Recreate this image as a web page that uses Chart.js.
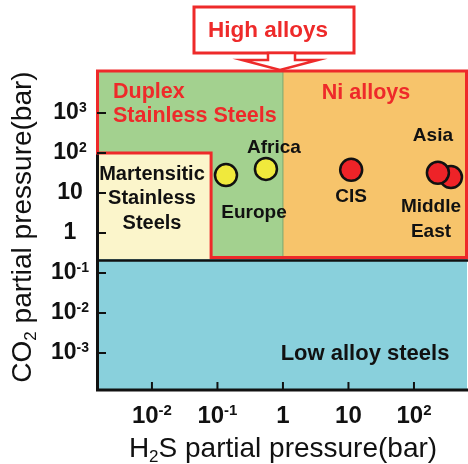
<!DOCTYPE html>
<html>
<head>
<meta charset="utf-8">
<script src="https://cdn.jsdelivr.net/npm/chart.js@4.4.0/dist/chart.umd.min.js"></script>
<style>
  html, body { margin: 0; padding: 0; background: #fff; overflow: hidden; }
  canvas { display: block; }
</style>
</head>
<body>
<canvas id="chart" width="468" height="464"></canvas>
<script>
// Axis ranges (bar, log scale)
const xRange = [1.45e-3, 645];
const yRange = [1.19e-4, 1.12e4];

// Ticks
const xTickValues = [0.01, 0.1, 1, 10, 100];
const xTickLabels = ['10^{-2}', '10^{-1}', '1', '10', '10^{2}'];
const yTickValues = [1e-3, 1e-2, 1e-1, 1, 10, 100, 1000];
const yTickLabels = ['10^{-3}', '10^{-2}', '10^{-1}', '1', '10', '10^{2}', '10^{3}'];

// Material zone limits
const lowAlloyTop = 0.224;      // CO2 above which high alloys are needed
const duplexNiSplit = 1;        // H2S split duplex / Ni alloys
const martensiticMaxH2S = 0.08;
const martensiticMaxCO2 = 100;

// Field locations (H2S, CO2)
const yellowNames = ['Europe', 'Africa'];
const yellowH2S = [0.135, 0.55];
const yellowCO2 = [28, 40];
const redNames = ['CIS', 'Middle East', 'Asia'];
const redH2S = [11, 367, 232];
const redCO2 = [38, 25, 32];

// label offsets from the point, px
const fieldLabelPos = {
  'Europe': { dx: 28, dy: 38, lines: ['Europe'] },
  'Africa': { dx: 8, dy: -21, lines: ['Africa'] },
  'CIS': { dx: 0, dy: 27, lines: ['CIS'] },
  'Middle East': { dx: -20, dy: 30, lines: ['Middle', 'East'] },
  'Asia': { dx: -5, dy: -37, lines: ['Asia'] }
};

const FONT = '"Liberation Sans", Arial, sans-serif';
const RED = '#ee2a2a';

function parseRich(s) {
  return s.split(/(\^\{[^}]*\}|_\{[^}]*\})/).filter(Boolean).map(p => {
    if (p[0] === '^') return { t: p.slice(2, -1), s: 1 };
    if (p[0] === '_') return { t: p.slice(2, -1), s: -1 };
    return { t: p, s: 0 };
  });
}

function drawRich(ctx, str, x, y, size, weight, align) {
  const parts = parseRich(str);
  const fontFor = p => `${weight} ${p.s ? Math.round(size * 0.62) : size}px ${FONT}`;
  let w = 0;
  parts.forEach(p => { ctx.font = fontFor(p); p.w = ctx.measureText(p.t).width; w += p.w; });
  let cx = align === 'center' ? x - w / 2 : (align === 'right' ? x - w : x);
  ctx.textAlign = 'left';
  ctx.textBaseline = 'middle';
  parts.forEach(p => {
    ctx.font = fontFor(p);
    const dy = p.s === 1 ? -size * 0.22 : (p.s === -1 ? size * 0.3 : 0);
    ctx.fillText(p.t, cx, y + dy);
    cx += p.w;
  });
}

function line(ctx, x1, y1, x2, y2) {
  ctx.beginPath();
  ctx.moveTo(x1, y1);
  ctx.lineTo(x2, y2);
  ctx.stroke();
}

const zonePlugin = {
  id: 'zones',
  beforeDatasetsDraw(chart) {
    const { ctx, chartArea: a, scales: { x, y } } = chart;
    const X = v => x.getPixelForValue(v), Y = v => y.getPixelForValue(v);
    const yb = Y(lowAlloyTop);
    const xs = X(duplexNiSplit);
    const xm = X(martensiticMaxH2S), ym = Y(martensiticMaxCO2);
    ctx.save();
    // low alloy steels everywhere
    ctx.fillStyle = '#89d0dc';
    ctx.fillRect(a.left, a.top, a.width, a.height);
    // duplex
    ctx.fillStyle = '#a3d18f';
    ctx.fillRect(a.left, a.top, xs - a.left, yb - a.top);
    // Ni alloys
    ctx.fillStyle = '#f7c46b';
    ctx.fillRect(xs, a.top, a.right - xs, yb - a.top);
    // martensitic
    ctx.fillStyle = '#fbf5cb';
    ctx.fillRect(a.left, ym, xm - a.left, yb - ym);

    ctx.strokeStyle = '#7ea86f';
    ctx.lineWidth = 1;
    line(ctx, xs, a.top, xs, yb);

    ctx.strokeStyle = '#111';
    ctx.lineWidth = 2.5;
    line(ctx, a.left, yb + 1.5, a.right + 1, yb + 1.5);
    ctx.lineWidth = 3;
    line(ctx, a.left + 0.5, a.top, a.left + 0.5, a.bottom);
    line(ctx, a.left - 1, a.bottom, a.right + 1, a.bottom);

    // high alloys outline
    ctx.strokeStyle = RED;
    ctx.lineWidth = 3;
    ctx.lineJoin = 'miter';
    ctx.beginPath();
    ctx.moveTo(a.left + 0.5, ym);
    ctx.lineTo(a.left + 0.5, a.top);
    ctx.lineTo(a.right - 0.5, a.top);
    ctx.lineTo(a.right - 0.5, yb - 1.5);
    ctx.lineTo(xm, yb - 1.5);
    ctx.lineTo(xm, ym);
    ctx.closePath();
    ctx.stroke();

    // tick marks
    ctx.strokeStyle = '#111';
    ctx.lineWidth = 2;
    yTickValues.forEach(v => line(ctx, a.left, Y(v), a.left + 9, Y(v)));
    xTickValues.forEach(v => line(ctx, X(v), a.bottom, X(v), a.bottom - 8));
    ctx.restore();
  },
  afterDraw(chart) {
    const { ctx, chartArea: a, scales: { x, y } } = chart;
    const X = v => x.getPixelForValue(v), Y = v => y.getPixelForValue(v);
    ctx.save();

    // tick labels
    ctx.fillStyle = '#111';
    xTickValues.forEach((v, i) => drawRich(ctx, xTickLabels[i], X(v), 416, 24, 'bold', 'center'));
    yTickValues.forEach((v, i) => drawRich(ctx, yTickLabels[i], 70, Y(v), 23, 'bold', 'center'));

    // axis titles
    drawRich(ctx, 'H_{2}S partial pressure(bar)', 283, 449, 28, 'normal', 'center');
    ctx.save();
    ctx.translate(23, 227);
    ctx.rotate(-Math.PI / 2);
    drawRich(ctx, 'CO_{2} partial pressure(bar)', 0, 0, 28, 'normal', 'center');
    ctx.restore();

    // zone names
    ctx.fillStyle = RED;
    drawRich(ctx, 'Duplex', 113, 92, 21.5, 'bold', 'left');
    drawRich(ctx, 'Stainless Steels', 113, 116, 21.5, 'bold', 'left');
    drawRich(ctx, 'Ni alloys', 366, 93, 21.5, 'bold', 'center');
    ctx.fillStyle = '#111';
    ['Martensitic', 'Stainless', 'Steels'].forEach((t, i) =>
      drawRich(ctx, t, 152, 174 + i * 24.5, 20, 'bold', 'center'));
    drawRich(ctx, 'Low alloy steels', 365, 354, 22, 'bold', 'center');

    // field names
    const fields = [
      ...yellowNames.map((n, i) => [n, yellowH2S[i], yellowCO2[i]]),
      ...redNames.map((n, i) => [n, redH2S[i], redCO2[i]])
    ];
    fields.forEach(([n, h, c]) => {
      const p = fieldLabelPos[n];
      p.lines.forEach((t, k) => drawRich(ctx, t, X(h) + p.dx, Y(c) + p.dy + k * 25, 19, 'bold', 'center'));
    });

    // "High alloys" call-out
    ctx.fillStyle = '#fff';
    ctx.strokeStyle = RED;
    ctx.lineWidth = 3;
    ctx.fillRect(194, 7, 160, 46);
    ctx.strokeRect(194, 7, 160, 46);
    ctx.beginPath();
    ctx.moveTo(268, 53);
    ctx.lineTo(268, 60);
    ctx.lineTo(242, 60);
    ctx.lineTo(280, a.top - 1);
    ctx.lineTo(318, 60);
    ctx.lineTo(295, 60);
    ctx.lineTo(295, 53);
    ctx.closePath();
    ctx.fill();
    ctx.lineWidth = 2.5;
    ctx.stroke();
    ctx.fillStyle = RED;
    drawRich(ctx, 'High alloys', 268, 31, 22.5, 'bold', 'center');
    ctx.restore();
  }
};

new Chart(document.getElementById('chart'), {
  type: 'scatter',
  data: {
    datasets: [
      {
        label: 'Yellow fields',
        data: yellowH2S.map((v, i) => ({ x: v, y: yellowCO2[i] })),
        backgroundColor: '#f0e93c',
        borderColor: '#111',
        borderWidth: 2.5,
        pointRadius: 11
      },
      {
        label: 'Red fields',
        data: redH2S.map((v, i) => ({ x: v, y: redCO2[i] })),
        backgroundColor: '#ee2328',
        borderColor: '#111',
        borderWidth: 2.5,
        pointRadius: 11
      }
    ]
  },
  options: {
    responsive: false,
    animation: false,
    layout: { autoPadding: false, padding: { top: 71, right: 1, left: 0, bottom: 0 } },
    plugins: {
      legend: { display: false },
      tooltip: { enabled: false }
    },
    scales: {
      x: {
        type: 'logarithmic',
        min: xRange[0],
        max: xRange[1],
        grid: { display: false },
        border: { display: false },
        ticks: { display: false },
        afterFit: s => { s.height = 74; }
      },
      y: {
        type: 'logarithmic',
        min: yRange[0],
        max: yRange[1],
        grid: { display: false },
        border: { display: false },
        ticks: { display: false },
        afterFit: s => { s.width = 97; }
      }
    }
  },
  plugins: [zonePlugin]
});
</script>
</body>
</html>
